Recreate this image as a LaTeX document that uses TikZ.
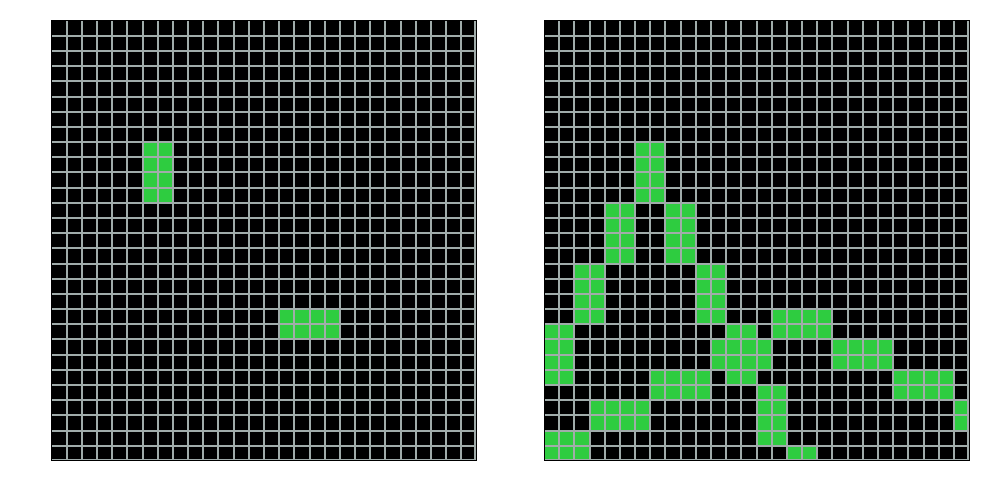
\documentclass[tikz,border=0pt]{standalone}
\definecolor{cellgreen}{RGB}{46,204,64}
\definecolor{gridgray}{RGB}{160,172,170}
\tikzset{
  board/.style={fill=black},
  live/.style={fill=cellgreen},
  gridline/.style={draw=gridgray, line width=0.02cm},
  boardframe/.style={draw=black, line width=0.01cm},
  cellunits/.style={x=0.1518cm, y=-0.1518cm}
}
\newcommand{\lifegrid}[1]{%
  \fill[board] (0,0) rectangle (28,29);
  \foreach \c/\r/\w/\h in {#1} \fill[live] (\c,\r) rectangle ++(\w,\h);
  \foreach \i in {1,...,27} \draw[gridline] (\i,0) -- (\i,29);
  \draw[gridline] (27.93,0) -- (27.93,29);
  \foreach \j in {1,...,28} \draw[gridline] (0,\j) -- (28,\j);
  \draw[gridline] (0,28.93) -- (28,28.93);
  \draw[boardframe] (0,0) rectangle (28,29);
}
\begin{document}
\begin{tikzpicture}
\useasboundingbox (0,0) rectangle (10,-5);
\begin{scope}[xshift=0.5145cm, yshift=-0.207cm, cellunits]
  \lifegrid{6/8/2/4, 15/19/4/2}
\end{scope}
\begin{scope}[xshift=5.44cm, yshift=-0.207cm, cellunits]
  \lifegrid{6/8/2/4, 4/12/2/4, 8/12/2/4, 2/16/2/4, 10/16/2/4, 0/20/2/4,
    12/20/2/1, 11/21/4/2, 12/23/2/1, 15/19/4/2, 19/21/4/2, 23/23/4/2,
    27/25/1/2, 7/23/4/2, 14/24/2/4, 16/28/2/1, 3/25/4/2, 0/27/3/2}
\end{scope}
\end{tikzpicture}
\end{document}
